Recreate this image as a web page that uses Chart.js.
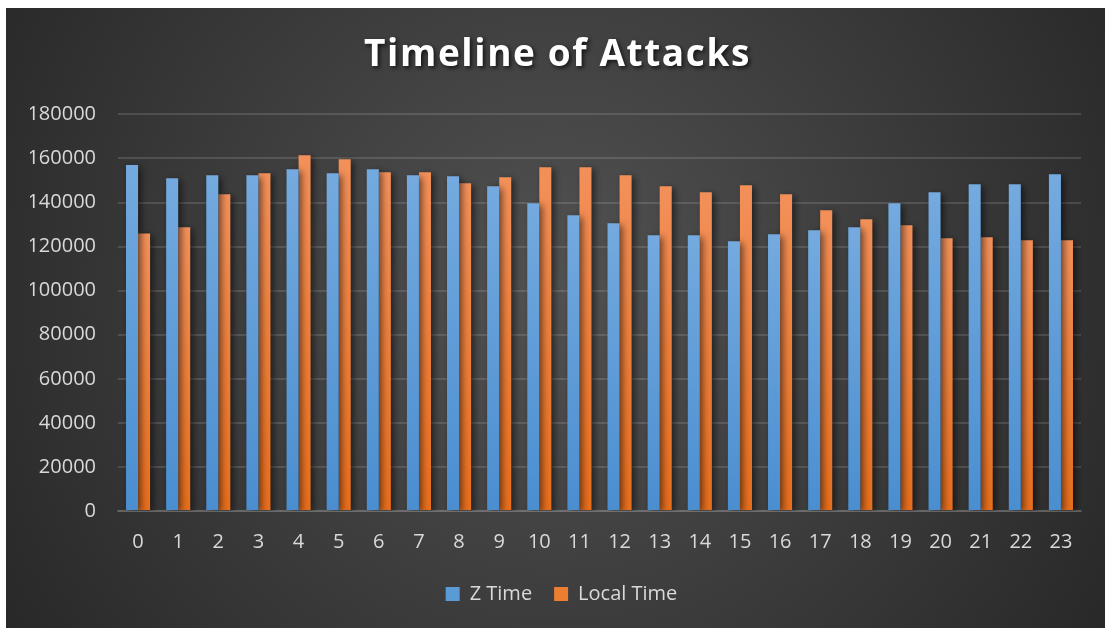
<!DOCTYPE html>
<html>
<head>
<meta charset="utf-8">
<script src="https://cdn.jsdelivr.net/npm/chart.js@4.4.1/dist/chart.umd.min.js"></script>
<style>
  html, body { margin: 0; padding: 0; background: #ffffff; }
  #wrap { position: absolute; left: 6px; top: 8px; width: 1099px; height: 620px; }
</style>
</head>
<body>
<div id="wrap"><canvas id="attackChart" width="1099" height="620"></canvas></div>
<script>
  'use strict';

  // hours of the day
  var hours = ['0', '1', '2', '3', '4', '5', '6', '7', '8', '9', '10', '11',
    '12', '13', '14', '15', '16', '17', '18', '19', '20', '21', '22', '23'];

  // attack counts per hour, Zulu time
  var zTime = [157000, 151000, 152400, 152400, 155100, 153300, 155100, 152400,
    151900, 147400, 139700, 134200, 130600, 125100, 125100, 122400,
    125600, 127400, 128800, 139700, 144700, 148300, 148300, 152800];

  // attack counts per hour, local time
  var localTime = [126000, 128800, 143800, 153300, 161500, 159700, 153800, 153800,
    148800, 151500, 156000, 156000, 152400, 147400, 144700, 147900,
    143800, 136500, 132400, 129700, 123800, 124200, 122900, 122900];

  var yTicks = [0, 20000, 40000, 60000, 80000, 100000, 120000, 140000, 160000, 180000];

  var tickColor = '#d9d9d9';
  var gridColor = 'rgba(255, 255, 255, 0.13)';

  // vertical gradient for each bar, from its own top down to the axis
  function barFill(top, bottom) {
    return function (context) {
      var chart = context.chart;
      if (!chart.chartArea || !chart.scales.y || context.type !== 'data') {
        return bottom;
      }
      var y = chart.scales.y;
      var value = context.dataset.data[context.dataIndex];
      var y0 = y.getPixelForValue(value);
      var y1 = y.getPixelForValue(0);
      var g = chart.ctx.createLinearGradient(0, y0, 0, y1);
      g.addColorStop(0, top);
      g.addColorStop(1, bottom);
      return g;
    };
  }

  // dark radial backdrop
  var backdrop = {
    id: 'backdrop',
    beforeDraw: function (chart) {
      var ctx = chart.ctx;
      var w = chart.width, h = chart.height;
      var g = ctx.createRadialGradient(w * 0.5, h * 0.45, 0, w * 0.5, h * 0.45, w * 0.62);
      g.addColorStop(0, '#525252');
      g.addColorStop(1, '#262626');
      ctx.save();
      ctx.fillStyle = g;
      ctx.fillRect(0, 0, w, h);
      ctx.restore();
    }
  };

  // soft drop shadow behind the bars
  var barShadow = {
    id: 'barShadow',
    beforeDatasetDraw: function (chart) {
      var ctx = chart.ctx;
      ctx.save();
      ctx.shadowColor = 'rgba(0, 0, 0, 0.55)';
      ctx.shadowBlur = 7;
      ctx.shadowOffsetX = 3;
      ctx.shadowOffsetY = 2;
    },
    afterDatasetDraw: function (chart) {
      chart.ctx.restore();
    }
  };

  // wrap a layout box's draw so it runs with extra canvas state
  function wrapDraw(obj, method, setup) {
    if (!obj || obj['_wrapped_' + method]) return;
    var orig = obj[method];
    obj[method] = function () {
      var ctx = this.ctx;
      ctx.save();
      setup(ctx);
      orig.apply(this, arguments);
      ctx.restore();
    };
    obj['_wrapped_' + method] = true;
  }

  // spaced, shadowed title; hour labels dropped a little; legend nudged right
  var boxStyle = {
    id: 'boxStyle',
    afterLayout: function (chart) {
      wrapDraw(chart.titleBlock, 'draw', function (ctx) {
        ctx.translate(2, 0);
        ctx.letterSpacing = '1.6px';
        ctx.shadowColor = 'rgba(0, 0, 0, 0.7)';
        ctx.shadowBlur = 4;
        ctx.shadowOffsetX = 2;
        ctx.shadowOffsetY = 2;
      });
      wrapDraw(chart.scales.x, 'drawLabels', function (ctx) {
        ctx.translate(0, 5);
      });
      wrapDraw(chart.legend, 'draw', function (ctx) {
        ctx.translate(6, -1);
      });
    }
  };

  var ctx = document.getElementById('attackChart').getContext('2d');
  var chart = new Chart(ctx, {
    type: 'bar',
    data: {
      labels: hours,
      datasets: [
        {
          label: 'Z Time',
          backgroundColor: barFill('#74aadf', '#4a8ed0'),
          data: zTime
        },
        {
          label: 'Local Time',
          backgroundColor: barFill('#f3905a', '#e76e1c'),
          data: localTime
        }
      ]
    },
    plugins: [backdrop, barShadow, boxStyle],
    options: {
      responsive: false,
      animation: false,
      categoryPercentage: 0.6,
      barPercentage: 1.0,
      layout: {
        padding: { left: 24, right: 24, top: 0, bottom: 13 }
      },
      plugins: {
        title: {
          display: true,
          text: 'Timeline of Attacks',
          color: '#ffffff',
          font: { family: 'Open Sans', size: 37, weight: 'bold' },
          padding: { top: 25, bottom: 37 }
        },
        legend: {
          position: 'bottom',
          labels: {
            color: tickColor,
            font: { family: 'Open Sans', size: 20 },
            boxWidth: 14,
            boxHeight: 14,
            padding: 22,
            generateLabels: function (c) {
              var fills = ['#5b9bd5', '#ed7d31'];
              return c.data.datasets.map(function (ds, i) {
                return {
                  text: ds.label,
                  fillStyle: fills[i],
                  strokeStyle: fills[i],
                  lineWidth: 0,
                  fontColor: tickColor,
                  datasetIndex: i
                };
              });
            }
          }
        },
        tooltip: { enabled: false }
      },
      scales: {
        x: {
          grid: { display: false, drawTicks: false },
          border: { display: true, color: gridColor, width: 2 },
          ticks: {
            color: tickColor,
            font: { family: 'Open Sans', size: 20 },
            padding: 14,
            maxRotation: 0
          }
        },
        y: {
          min: 0,
          max: 180000,
          afterBuildTicks: function (scale) {
            scale.ticks = yTicks.map(function (v) { return { value: v }; });
          },
          afterFit: function (scale) {
            scale.width = 88;
          },
          grid: { color: gridColor, lineWidth: 2, drawTicks: false },
          border: { display: false },
          ticks: {
            color: tickColor,
            font: { family: 'Open Sans', size: 20 },
            padding: 22,
            callback: function (v) { return String(v); }
          }
        }
      }
    }
  });
</script>
</body>
</html>
